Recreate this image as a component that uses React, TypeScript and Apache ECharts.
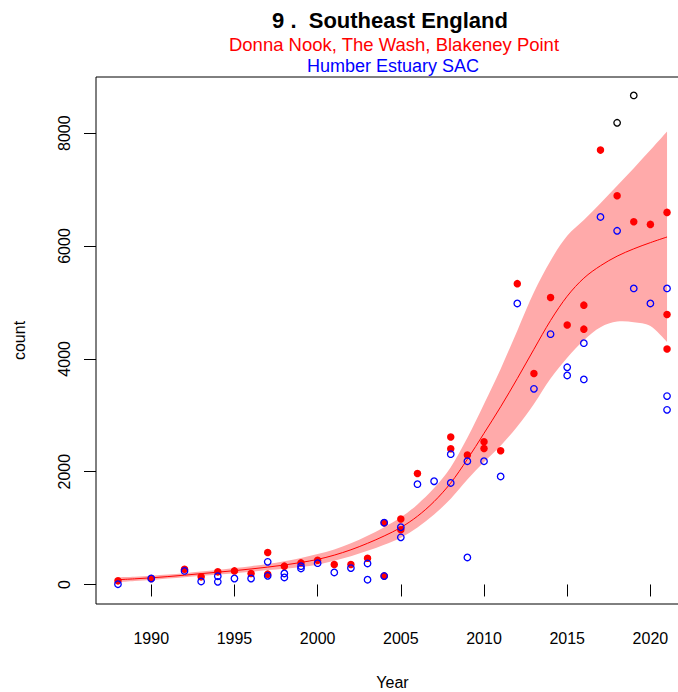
import React, { useEffect, useRef } from "react";
import * as echarts from "echarts";

// Fitted trend and its confidence band
const fitYears = [1988, 1989, 1990, 1991, 1992, 1993, 1994, 1995, 1996, 1997, 1998, 1999, 2000, 2001, 2002, 2003, 2004, 2005, 2006, 2007, 2008, 2009, 2010, 2011, 2012, 2013, 2014, 2015, 2016, 2017, 2018, 2019, 2020, 2021];
const fitValues = [85, 100, 118, 140, 165, 192, 218, 245, 275, 308, 345, 390, 445, 520, 615, 730, 860, 1010, 1210, 1470, 1800, 2220, 2680, 3150, 3650, 4170, 4680, 5110, 5430, 5650, 5820, 5950, 6060, 6160];
const bandLower = [40, 62, 80, 105, 130, 155, 178, 200, 225, 255, 280, 310, 350, 420, 500, 597, 705, 830, 1010, 1240, 1520, 1860, 2170, 2460, 2800, 3200, 3650, 4020, 4330, 4560, 4660, 4650, 4580, 4300];
const bandUpper = [130, 138, 155, 175, 200, 230, 258, 290, 325, 362, 410, 470, 540, 620, 730, 863, 1015, 1190, 1420, 1710, 2080, 2600, 3200, 3820, 4500, 5180, 5740, 6180, 6460, 6760, 7070, 7380, 7700, 8030];

// Donna Nook, The Wash, Blakeney Point (red filled)
const redYears = [1988, 1990, 1992, 1993, 1994, 1995, 1996, 1997, 1997, 1998, 1999, 2000, 2001, 2002, 2003, 2004, 2004, 2005, 2005, 2006, 2008, 2008, 2009, 2010, 2010, 2011, 2012, 2013, 2014, 2015, 2016, 2016, 2017, 2018, 2019, 2020, 2021, 2021, 2021];
const redCounts = [64, 106, 271, 135, 224, 241, 195, 567, 183, 325, 383, 431, 355, 355, 465, 1095, 150, 1160, 970, 1968, 2615, 2405, 2295, 2530, 2411, 2370, 5333, 3741, 5088, 4600, 4952, 4526, 7700, 6890, 6429, 6383, 6596, 4787, 4175];

// Humber Estuary SAC (blue open)
const blueYears = [1988, 1990, 1992, 1993, 1994, 1994, 1995, 1996, 1997, 1997, 1998, 1998, 1999, 1999, 2000, 2001, 2002, 2003, 2003, 2004, 2004, 2005, 2005, 2006, 2007, 2008, 2008, 2009, 2009, 2010, 2011, 2012, 2013, 2014, 2015, 2015, 2016, 2016, 2017, 2018, 2019, 2020, 2021, 2021, 2021];
const blueCounts = [5, 106, 241, 53, 147, 47, 106, 106, 401, 153, 195, 124, 325, 284, 378, 213, 290, 372, 85, 1095, 150, 1015, 836, 1778, 1830, 2310, 1800, 2185, 479, 2185, 1915, 4982, 3468, 4438, 3850, 3705, 4278, 3635, 6515, 6270, 5248, 4982, 5248, 3339, 3096];

// Other (black open)
const blackYears = [2018, 2019];
const blackCounts = [8184, 8670];

const xTicks = [1990, 1995, 2000, 2005, 2010, 2015, 2020];
const yTicks = [0, 2000, 4000, 6000, 8000];

const titleMain = "9 .  Southeast England";
const titleRed = "Donna Nook, The Wash, Blakeney Point";
const titleBlue = "Humber Estuary SAC";

const FONT = "'Liberation Sans', Arial, sans-serif";

type Pt = number[];

// Catmull-Rom spline through pixel points, as cubic bezier commands (no initial M)
function splineSegs(p: Pt[]): string {
  let d = "";
  for (let i = 0; i < p.length - 1; i++) {
    const p0 = p[i - 1] || p[i];
    const p1 = p[i];
    const p2 = p[i + 1];
    const p3 = p[i + 2] || p[i + 1];
    const c1x = p1[0] + (p2[0] - p0[0]) / 6;
    const c1y = p1[1] + (p2[1] - p0[1]) / 6;
    const c2x = p2[0] - (p3[0] - p1[0]) / 6;
    const c2y = p2[1] - (p3[1] - p1[1]) / 6;
    d += ` C${c1x},${c1y} ${c2x},${c2y} ${p2[0]},${p2[1]}`;
  }
  return d;
}

export default function App() {
  const ref = useRef<HTMLDivElement>(null);

  useEffect(() => {
    if (!ref.current) return;
    const chart = echarts.init(ref.current, null, { renderer: "svg" });
    const pairs = (xs: number[], ys: number[]) => xs.map((x, i) => [x, ys[i]]);

    const textStyle = (text: string, fill: string, size: number, weight: string) => ({
      text,
      fill,
      fontSize: size,
      fontWeight: weight,
      fontFamily: FONT,
      align: "center",
      verticalAlign: "middle",
      textAlign: "center",
      textVerticalAlign: "middle",
    });

    chart.setOption({
      animation: false,
      backgroundColor: "#ffffff",
      textStyle: { fontFamily: FONT },
      graphic: [
        { type: "text", x: 390, y: 20, style: textStyle(titleMain, "#000000", 22, "bold") },
        { type: "text", x: 394, y: 44, style: textStyle(titleRed, "#ff0000", 18.5, "normal") },
        { type: "text", x: 393, y: 66, style: textStyle(titleBlue, "#0000ff", 18, "normal") },
      ],
      grid: {
        left: 96,
        top: 77,
        width: 593,
        height: 527,
        outerBoundsMode: "none",
        containLabel: false,
        show: true,
        borderColor: "#000000",
        borderWidth: 1,
        backgroundColor: "transparent",
      },
      xAxis: {
        type: "value",
        min: 1986.68,
        max: 2022.32,
        name: "Year",
        nameLocation: "middle",
        nameGap: 70,
        nameTextStyle: { fontSize: 16, color: "#000000", fontFamily: FONT },
        axisLine: { show: false },
        splitLine: { show: false },
        axisTick: { show: true, inside: false, length: 12, customValues: xTicks, lineStyle: { color: "#000000", width: 1 } },
        axisLabel: { customValues: xTicks, margin: 26, fontSize: 16, color: "#000000", fontFamily: FONT, formatter: (v: number) => String(v) },
      },
      yAxis: {
        type: "value",
        min: -346,
        max: 8996,
        name: "count",
        nameLocation: "middle",
        nameGap: 69,
        nameRotate: 90,
        nameTextStyle: { fontSize: 16, color: "#000000", fontFamily: FONT },
        axisLine: { show: false },
        splitLine: { show: false },
        axisTick: { show: true, inside: false, length: 12, customValues: yTicks, lineStyle: { color: "#000000", width: 1 } },
        axisLabel: { customValues: yTicks, rotate: 90, margin: 24, fontSize: 16, color: "#000000", fontFamily: FONT, formatter: (v: number) => String(v) },
      },
      series: [
        {
          name: "confidence band",
          type: "custom",
          silent: true,
          z: 1,
          data: fitYears.map((x, i) => [x, bandLower[i], bandUpper[i]]),
          encode: { x: 0, y: [1, 2] },
          renderItem: (params: any, api: any) => {
            if (params.dataIndex !== 0) return null;
            const up = fitYears.map((x, i) => api.coord([x, bandUpper[i]]));
            const lo = fitYears.map((x, i) => api.coord([x, bandLower[i]])).reverse();
            const d =
              `M${up[0][0]},${up[0][1]}` +
              splineSegs(up) +
              ` L${lo[0][0]},${lo[0][1]}` +
              splineSegs(lo) +
              " Z";
            return { type: "path", shape: { pathData: d }, style: { fill: "#ffaaaa", stroke: null } };
          },
        },
        {
          name: "fit",
          type: "custom",
          silent: true,
          z: 2,
          data: pairs(fitYears, fitValues),
          encode: { x: 0, y: 1 },
          renderItem: (params: any, api: any) => {
            if (params.dataIndex !== 0) return null;
            const pts = fitYears.map((x, i) => api.coord([x, fitValues[i]]));
            const d = `M${pts[0][0]},${pts[0][1]}` + splineSegs(pts);
            return { type: "path", shape: { pathData: d }, style: { fill: null, stroke: "#ff0000", lineWidth: 1 } };
          },
        },
        {
          name: "Donna Nook, The Wash, Blakeney Point",
          type: "scatter",
          symbol: "circle",
          symbolSize: 7.5,
          itemStyle: { color: "#ff0000", opacity: 1 },
          data: pairs(redYears, redCounts),
          z: 3,
        },
        {
          name: "Humber Estuary SAC",
          type: "scatter",
          symbol: "circle",
          symbolSize: 6.5,
          itemStyle: { color: "rgba(0,0,0,0)", borderColor: "#0000ff", borderWidth: 1.3, opacity: 1 },
          data: pairs(blueYears, blueCounts),
          z: 4,
        },
        {
          name: "Other",
          type: "scatter",
          symbol: "circle",
          symbolSize: 6.5,
          itemStyle: { color: "rgba(0,0,0,0)", borderColor: "#000000", borderWidth: 1.3, opacity: 1 },
          data: pairs(blackYears, blackCounts),
          z: 4,
        },
      ],
    });

    return () => chart.dispose();
  }, []);

  return (
    <div
      ref={ref}
      style={{ position: "fixed", left: 0, top: 0, width: 678, height: 692, background: "#ffffff" }}
    />
  );
}
